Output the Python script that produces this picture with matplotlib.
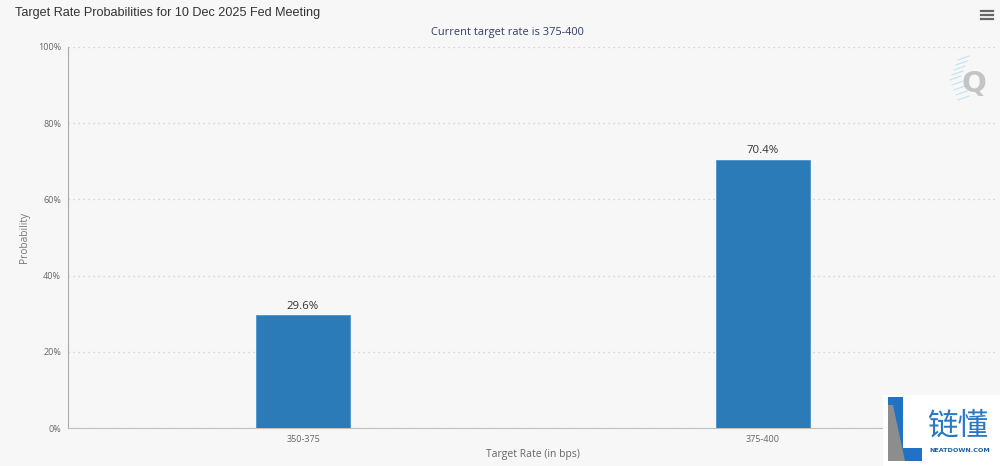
import numpy as np
import matplotlib
matplotlib.use("Agg")
import matplotlib.pyplot as plt
from matplotlib.patches import Rectangle, Polygon

# data
rates = ["350-375", "375-400"]
probs = [29.6, 70.4]
yticks = [0, 20, 40, 60, 80, 100]

bg = "#f7f7f7"
barcol = "#2b7bb9"

fig = plt.figure(figsize=(10, 4.66), dpi=100, facecolor=bg)
W, H = 1000.0, 466.0

ax = fig.add_axes([68/W, 1-428/H, 930/W, 381/H])
ax.set_facecolor(bg)

x = np.arange(len(rates))
bars = ax.bar(x, probs, width=0.206, color=barcol, edgecolor="#4a93cc", linewidth=0.6, zorder=3)
for xi, p in zip(x, probs):
    ax.text(xi, p + 0.9, "%.1f%%" % p, ha="center", va="bottom", fontsize=8.2,
            color="#333333", family="Open Sans", zorder=4)

ax.set_xlim(-0.511, 1.511)
ax.set_ylim(0, 100)
ax.set_yticks(yticks)
ax.set_yticklabels(["%d%%" % t for t in yticks], fontsize=6.5, color="#666666", family="Open Sans")
ax.set_xticks(x)
ax.set_xticklabels(rates, fontsize=6.5, color="#666666", family="Open Sans")
ax.tick_params(axis="y", length=0, pad=5)
ax.tick_params(axis="x", length=0, pad=5)

ax.grid(axis="y", linestyle=(0, (1, 3)), color="#cccccc", linewidth=0.9, zorder=0)
for s in ["top", "right"]:
    ax.spines[s].set_visible(False)
ax.spines["left"].set_color("#aaaaaa")
ax.spines["left"].set_linewidth(0.8)
ax.spines["bottom"].set_color("#c0c0c0")
ax.spines["bottom"].set_linewidth(0.8)

ax.set_ylabel("Probability", fontsize=7.3, color="#777777", family="Open Sans")
ax.yaxis.set_label_coords(-38/930, 0.5)
fig.text(533/W, 1-455/H, "Target Rate (in bps)", ha="center", va="center",
         fontsize=7.5, color="#666666", family="Open Sans")

# title and subtitle
fig.text(15/W, 1-13/H, "Target Rate Probabilities for 10 Dec 2025 Fed Meeting", ha="left", va="center",
         fontsize=9.1, color="#333333", family="Liberation Sans")
fig.text(507/W, 1-32/H, "Current target rate is 375-400", ha="center", va="center",
         fontsize=7.9, color="#333d66", family="Open Sans")

# menu icon
for yy in [11, 15, 19]:
    fig.add_artist(plt.Line2D([981/W, 993/W], [1-yy/H, 1-yy/H], color="#666666", linewidth=1.6))

# Q watermark
for k in range(9):
    y0 = 1 - (60 + k*5)/H
    x0 = (950 + abs(k-4)*2)/W
    fig.add_artist(plt.Line2D([x0, x0 + 11/W], [y0, y0 + 4/H], color="#c2e2f2", linewidth=0.8))
fig.text(974/W, 1-84/H, "Q", ha="center", va="center", fontsize=21, fontweight="bold",
         color="#c4c4c4", family="DejaVu Sans")

# bottom-right badge
fig.add_artist(Rectangle((883/W, 0), 117/W, 71/H, transform=fig.transFigure,
                         facecolor="white", edgecolor="none", zorder=5))
fig.add_artist(Polygon([(888/W, 1-397/H), (903/W, 1-397/H), (903/W, 1-448/H), (922/W, 1-448/H),
                        (922/W, 1-461/H), (888/W, 1-461/H)], closed=True, transform=fig.transFigure,
                       facecolor="#1f73c2", edgecolor="none", zorder=6))
fig.add_artist(Polygon([(888/W, 1-405/H), (893/W, 1-405/H), (905/W, 1-461/H), (888/W, 1-461/H)],
                       closed=True, transform=fig.transFigure,
                       facecolor="#8d8d8d", edgecolor="none", zorder=7))
fig.text(958/W, 1-426/H, "链懂", ha="center", va="center", fontsize=22, color="#2a78c4",
         family=["Noto Sans CJK SC", "DejaVu Sans"], zorder=8)
fig.text(960/W, 1-451/H, "NEATDOWN.COM", ha="center", va="center", fontsize=4.6,
         color="#1f5fa0", family="DejaVu Sans", fontweight="bold", zorder=8)

fig.savefig("out.png", dpi=100, facecolor=bg)
